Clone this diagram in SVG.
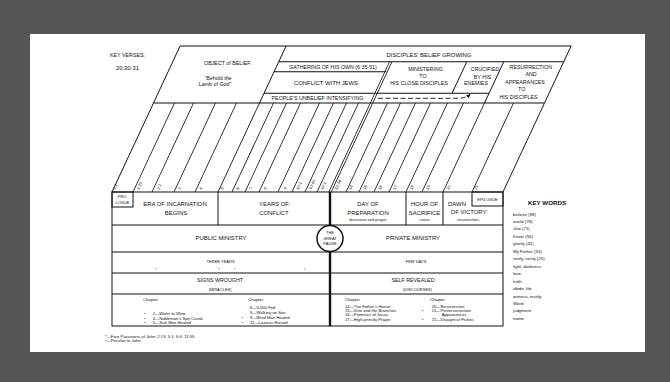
<svg xmlns="http://www.w3.org/2000/svg" width="670" height="382" viewBox="0 0 670 382">
<style>
text{font-family:"Liberation Sans",Arial,sans-serif;fill:#111111}
.h{font-size:5.9px;text-anchor:middle}
.m{font-size:5.3px;text-anchor:middle}
.s{font-size:4px;text-anchor:middle}
.l{font-size:4.2px}
.v{font-size:4.2px}
.k{font-size:4.4px}
.ln{stroke:#111111;stroke-width:0.85;fill:none}
.bx{stroke:#111111;stroke-width:1;fill:none}
</style>
<defs>
<marker id="ah" viewBox="0 0 10 10" refX="8" refY="5" markerWidth="5" markerHeight="5" orient="auto"><path d="M0 1 L10 5 L0 9 z" fill="#111111"/></marker>
</defs>
<rect x="0" y="0" width="670" height="382" fill="#555555"/>
<rect x="30" y="34" width="615" height="318" fill="#ffffff"/>

<g id="connectors">
<g transform="matrix(1 0 -0.4663 1 89.53 0)">
<path class="bx" d="M112 46 H503 V192 M112 46 V192 M112 103 H503 M218 61.7 H503 M218 46 V103 M218 71.7 H330 M218 93.3 H443 M406 61.7 V93.3 M443 61.7 V103"/>
<path class="ln" d="M328.8 61.7 V192 M331.2 61.7 V192"/>
<path class="ln" d="M133 103V192 M152 103V192 M174 103V192 M195 103V192 M218 103V192 M232 103V192 M245 103V192 M259 103V192 M278 103V192 M292 103V192 M305 103V192 M317 103V192 M346 103V192 M359 103V192 M374 103V192 M389 103V192 M406 103V192 M422 103V192 M443 103V192 M472 103V192"/>
</g>
<path d="M378 98.3 H458 Q466 98 470 94.5" stroke="#111111" stroke-width="0.9" fill="none" stroke-dasharray="5 2.5" marker-end="url(#ah)"/>
</g>

<g id="key-verses">
<text x="110" y="57" style="font-size:6px" textLength="35" lengthAdjust="spacingAndGlyphs">KEY VERSES:</text>
<text x="116" y="69.5" style="font-size:6px" textLength="23" lengthAdjust="spacingAndGlyphs">20:30-31</text>
</g>

<g id="object-of-belief">
<text class="m" x="228" y="65">OBJECT of BELIEF:</text>
<text class="m" x="218" y="80.2">“Behold the</text>
<text class="m" x="215" y="85.5">Lamb of God”</text>
</g>
<g id="disciples-belief">
<text class="h" x="429" y="57">DISCIPLES’ BELIEF GROWING</text>
</g>
<g id="gathering">
<text class="m" x="333" y="68.8">GATHERING OF HIS OWN (6:35-51)</text>
</g>
<g id="conflict-jews">
<text class="h" x="326" y="84.8">CONFLICT WITH JEWS</text>
</g>
<g id="ministering">
<text class="m" x="425.5" y="71.4">MINISTERING</text>
<text class="m" x="423" y="78.2">TO</text>
<text class="m" x="419" y="85.4">HIS CLOSE DISCIPLES</text>
</g>
<g id="unbelief">
<text class="m" x="317.5" y="100.3">PEOPLE’S UNBELIEF INTENSIFYING</text>
</g>
<g id="crucified">
<text class="m" x="485" y="71.4">CRUCIFIED</text>
<text class="m" x="482.5" y="78.8">BY HIS</text>
<text class="m" x="476" y="85.4">ENEMIES</text>
</g>
<g id="resurrection">
<text class="m" x="530.8" y="69.4">RESURRECTION</text>
<text class="m" x="531" y="76.4">AND</text>
<text class="m" x="525" y="84.4">APPEARANCES</text>
<text class="m" x="521.7" y="91.4">TO</text>
<text class="m" x="518.5" y="98.8">HIS DISCIPLES</text>
</g>

<g id="verse-labels">
<text class="v" transform="translate(115 190) rotate(-65)">1:1</text>
<text class="v" transform="translate(139 190) rotate(-65)">1:19</text>
<text class="v" transform="translate(159 190) rotate(-65)">2:1</text>
<text class="v" transform="translate(180 190) rotate(-65)">3</text>
<text class="v" transform="translate(201.5 190) rotate(-65)">4</text>
<text class="v" transform="translate(223 190) rotate(-65)">5</text>
<text class="v" transform="translate(238.5 190) rotate(-65)">6</text>
<text class="v" transform="translate(251.5 190) rotate(-65)">7</text>
<text class="v" transform="translate(266 190) rotate(-65)">8</text>
<text class="v" transform="translate(286 190) rotate(-65)">9</text>
<text class="v" transform="translate(298.5 190) rotate(-65)">10:1</text>
<text class="v" transform="translate(311 190) rotate(-65)">10:40</text>
<text class="v" transform="translate(323 190) rotate(-65)">12:1</text>
<text class="v" transform="translate(337 190) rotate(-65)">12:36</text>
<text class="v" transform="translate(351 190) rotate(-65)">14</text>
<text class="v" transform="translate(365.5 190) rotate(-65)">15</text>
<text class="v" transform="translate(380.5 190) rotate(-65)">16</text>
<text class="v" transform="translate(395.5 190) rotate(-65)">17</text>
<text class="v" transform="translate(412 190) rotate(-65)">18</text>
<text class="v" transform="translate(428.5 190) rotate(-65)">19</text>
<text class="v" transform="translate(449 190) rotate(-65)">20</text>
<text class="v" transform="translate(476.5 190) rotate(-65)">21</text>
</g>

<g id="table-frame">
<rect class="bx" x="112" y="192" width="391" height="134"/>
<path class="bx" d="M112 225 H503 M112 252 H503 M112 273 H503 M112 294 H503 M218 192 V225 M406 192 V225 M443 192 V225"/>
<line x1="330" y1="192" x2="330" y2="326" stroke="#111111" stroke-width="2.4"/>
</g>

<g id="prologue">
<rect class="bx" x="112" y="192" width="21" height="15"/>
<text class="s" x="122.5" y="198.2">PRO-</text>
<text class="s" x="122.5" y="204.3">LOGUE</text>
</g>
<g id="era-incarnation">
<text class="h" x="175" y="206.4">ERA OF INCARNATION</text>
<text class="h" x="176" y="214.8">BEGINS</text>
</g>
<g id="years-conflict">
<text class="h" x="274" y="206.4">YEARS OF</text>
<text class="h" x="274" y="214.8">CONFLICT</text>
</g>
<g id="day-preparation">
<text class="h" x="368" y="206.4">DAY OF</text>
<text class="h" x="368" y="214.8">PREPARATION</text>
<text class="s" x="368" y="220.8">discourse and prayer</text>
</g>
<g id="hour-sacrifice">
<text class="h" x="424.5" y="206.4">HOUR OF</text>
<text class="h" x="424.5" y="214.8">SACRIFICE</text>
<text class="s" x="424.5" y="220.8">-cross-</text>
</g>
<g id="dawn-victory">
<text class="h" x="457" y="206.4">DAWN</text>
<text class="h" x="468.5" y="213.8">OF VICTORY</text>
<text class="s" x="468" y="220.8">-resurrection-</text>
</g>
<g id="epilogue">
<rect class="bx" x="472" y="192" width="31" height="14"/>
<text class="s" x="487.5" y="200.8">EPILOGUE</text>
</g>

<g id="public-ministry">
<text class="h" x="221" y="240.4">PUBLIC MINISTRY</text>
</g>
<g id="great-pause">
<circle cx="330" cy="238.5" r="13" fill="#ffffff" stroke="#111111" stroke-width="1.5"/>
<text class="s" x="330" y="234">THE</text>
<text class="s" x="330" y="239.6">GREAT</text>
<text class="s" x="330" y="244.8">PAUSE</text>
</g>
<g id="private-ministry">
<text class="h" x="413" y="240.4">PRIVATE MINISTRY</text>
</g>

<g id="three-years">
<text class="s" x="220.5" y="263.2">THREE YEARS</text>
<text class="v" x="155.6" y="270.5">*</text>
<text class="v" x="218.2" y="270.5">*</text>
<text class="v" x="233.9" y="270.5">*</text>
<text class="v" x="303.9" y="270.5">*</text>
</g>
<g id="few-days">
<text class="s" x="416" y="263.2">FEW DAYS</text>
</g>

<g id="signs-wrought">
<text class="m" x="220" y="281.9">SIGNS WROUGHT</text>
<text class="s" x="220" y="290.7">(MIRACLES)</text>
<text class="l" x="143" y="300.7">Chapter</text>
<text class="l" x="144" y="314.5">•</text>
<text class="l" x="152.7" y="314.5">2—Water to Wine</text>
<text class="l" x="144" y="319.5">•</text>
<text class="l" x="152.7" y="319.5">4—Nobleman’s Son Cured</text>
<text class="l" x="144" y="324">•</text>
<text class="l" x="152.7" y="324">5—Sick Man Healed</text>
<text class="l" x="248.3" y="300.7">Chapter</text>
<text class="l" x="250" y="309">6—5,000 Fed</text>
<text class="l" x="250" y="313.6">6—Walking on Sea</text>
<text class="l" x="241.7" y="319">•</text>
<text class="l" x="250" y="319">9—Blind Man Healed</text>
<text class="l" x="241.7" y="324">•</text>
<text class="l" x="250" y="324">11—Lazarus Raised</text>
</g>

<g id="self-revealed">
<text class="m" x="413" y="281.9">SELF REVEALED</text>
<text class="s" x="417.5" y="290.7">(DISCOURSES)</text>
<text class="l" x="345" y="300.7">Chapter</text>
<text class="l" x="345" y="308">14—The Father’s House</text>
<text class="l" x="345" y="312.2">15—Vine and the Branches</text>
<text class="l" x="345" y="316.4">16—Promises of Jesus</text>
<text class="l" x="345" y="321.4">17—High-priestly Prayer</text>
<text class="l" x="430" y="300.7">Chapter</text>
<text class="l" x="431.7" y="308">20—Resurrection</text>
<text class="l" x="421.7" y="312.2">•</text>
<text class="l" x="431.7" y="312.2">21—Postresurrection</text>
<text class="l" x="441.7" y="316.4">Appearances</text>
<text class="l" x="421.7" y="321.4">•</text>
<text class="l" x="431.7" y="321.4">21—Draught of Fishes</text>
</g>

<g id="footnotes">
<text class="l" x="105" y="337.5">*—Four Passovers of John: 2:13; 5:1; 6:4; 11:55</text>
<text class="l" x="105" y="342.2">•—Peculiar to John</text>
</g>

<g id="key-words">
<text x="547" y="204.8" style="font-size:6.2px;font-weight:bold;text-anchor:middle">KEY WORDS</text>
<text class="k" x="513" y="215.5">believe (98)</text>
<text class="k" x="513" y="223">world (78)</text>
<text class="k" x="513" y="230.4">Jew (71)</text>
<text class="k" x="513" y="237.9">Know (55)</text>
<text class="k" x="513" y="245.3">glorify (42)</text>
<text class="k" x="513" y="252.8">My Father (33)</text>
<text class="k" x="513" y="260.2">verily, verily (25)</text>
<text class="k" x="513" y="267.7">light, darkness</text>
<text class="k" x="513" y="275.1">love</text>
<text class="k" x="513" y="282.6">truth</text>
<text class="k" x="513" y="290">abide, life</text>
<text class="k" x="513" y="297.5">witness, testify</text>
<text class="k" x="513" y="304.9">Word</text>
<text class="k" x="513" y="312.4">judgment</text>
<text class="k" x="513" y="319.8">name</text>
</g>
</svg>
